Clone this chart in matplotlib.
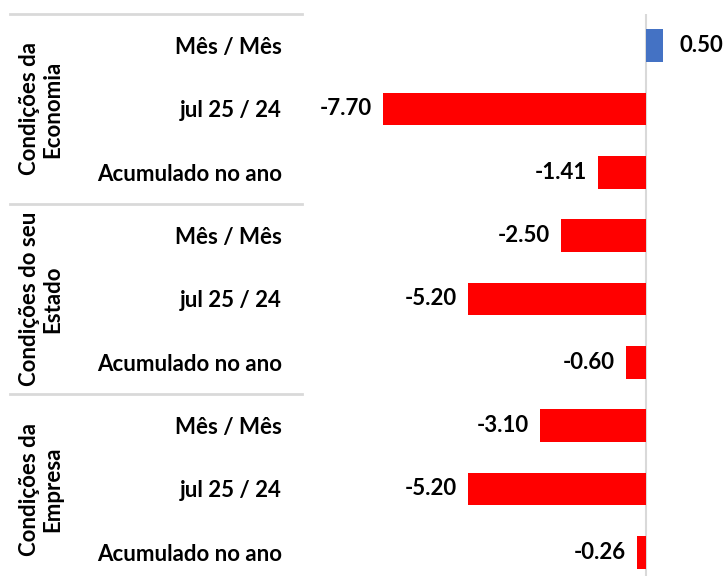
import matplotlib
matplotlib.use("Agg")
import matplotlib.pyplot as plt

groups = ["Condições da\nEconomia", "Condições do seu\nEstado", "Condições da\nEmpresa"]
categories = ["Mês / Mês", "jul 25 / 24", "Acumulado no ano"]
values = [0.50, -7.70, -1.41, -2.50, -5.20, -0.60, -3.10, -5.20, -0.26]
value_labels = ["0.50", "-7.70", "-1.41", "-2.50", "-5.20", "-0.60", "-3.10", "-5.20", "-0.26"]

FONT = "Lato"
FS = 16
W, H = 725, 576
fig = plt.figure(figsize=(W / 100, H / 100), dpi=100)
ax = fig.add_axes([300 / W, (576 - 584) / H, 425 / W, 570 / H])

n = len(values)
ypos = list(range(n))
colors = ["#4472C4" if v > 0 else "#FF0000" for v in values]
ax.barh(ypos, values, height=0.52, color=colors, zorder=2)
ax.set_ylim(n - 0.5, -0.5)
ax.set_xlim(-10.12, 2.31)

for s in ["top", "right", "bottom", "left"]:
    ax.spines[s].set_visible(False)
ax.set_xticks([])
ax.set_yticks(ypos)
ax.set_yticklabels(categories * len(groups), fontfamily=FONT, fontweight="bold", fontsize=FS)
ax.tick_params(axis="y", length=0, pad=13)

# zero axis line
ax.axvline(0, color="#D9D9D9", lw=1.5, zorder=1)

# data labels
for y, v, lab in zip(ypos, values, value_labels):
    if v >= 0:
        ax.annotate(lab, (v, y), xytext=(12, 0), textcoords="offset points",
                    ha="left", va="center", fontfamily=FONT, fontweight="bold", fontsize=FS)
    else:
        ax.annotate(lab, (v, y), xytext=(-8, 0), textcoords="offset points",
                    ha="right", va="center", fontfamily=FONT, fontweight="bold", fontsize=FS)

# group separators and labels
tr = ax.get_yaxis_transform()
for g in range(len(groups) + 1):
    yb = g * 3 - 0.5
    ax.plot([(10 - 300) / 425, 2 / 425], [yb, yb], color="#D9D9D9", lw=2,
            transform=tr, clip_on=False)
for g, name in enumerate(groups):
    ax.text((41 - 300) / 425, g * 3 + 1, name, transform=tr, rotation=90,
            ha="center", va="center", multialignment="center",
            fontfamily=FONT, fontweight="bold", fontsize=16, linespacing=1.12)

fig.savefig("out.png", dpi=100)
